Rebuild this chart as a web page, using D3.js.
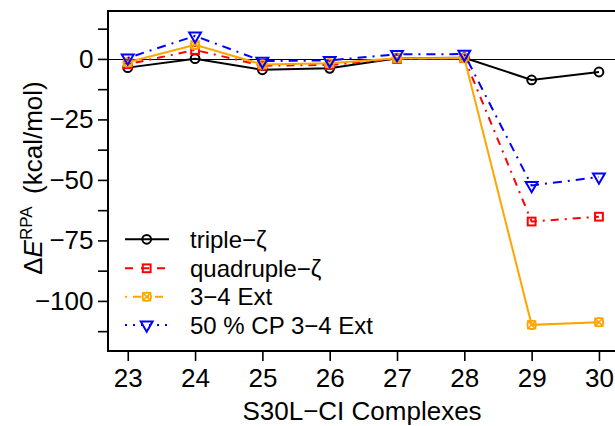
<!DOCTYPE html>
<html>
<head>
<meta charset="utf-8">
<script src="https://cdn.jsdelivr.net/npm/d3@7"></script>
<style>
  html, body { margin: 0; padding: 0; background: #fff; }
  svg { display: block; }
  text { font-family: "Liberation Sans", Arial, Helvetica, sans-serif; fill: #000; }
</style>
</head>
<body>
<svg id="chart" width="615" height="426"></svg>
<script>
// ---- data ----
const complexes = [23, 24, 25, 26, 27, 28, 29, 30];
const tripleZeta    = [-3.6, 0.1, -4.5, -3.9, 0.3, 0.5, -8.7, -5.4];
const quadrupleZeta = [-2.2, 3.7, -2.8, -2.5, 0.0, 0.3, -67.2, -65.2];
const ext34         = [-1.4, 5.8, -2.3, -1.8, 0.3, 0.4, -109.9, -108.8];
const cp50ext34     = [0.4, 9.5, -0.9, -0.6, 1.9, 2.0, -52.3, -48.8];
const seriesNames = ["triple\u2212\u03B6", "quadruple\u2212\u03B6", "3\u22124 Ext", "50 % CP 3\u22124 Ext"];
const yMajorTicks = [0, -25, -50, -75, -100];
const yMinorTicks = [12.5, -12.5, -37.5, -62.5, -87.5, -112.5];
const xTicks = complexes;
const xTitle = "S30L\u2212CI Complexes";

// ---- layout ----
const svg = d3.select("#chart");
const x = d3.scaleLinear().domain([22.72, 30.28]).range([108.9, 617.8]);
const y = d3.scaleLinear().domain([-120.7, 19.8]).range([351, 11]);
const R = 4.4;

const series = [
  { name: seriesNames[0], values: tripleZeta,    color: "#000000", dash: null,        legDash: null,        shape: "circle" },
  { name: seriesNames[1], values: quadrupleZeta, color: "#FF0000", dash: "2,6,8,6",   legDash: "8,8",       shape: "square" },
  { name: seriesNames[2], values: ext34,         color: "#FFA500", dash: null,        legDash: "2,6,8,6",   shape: "boxx" },
  { name: seriesNames[3], values: cp50ext34,     color: "#0000FF", dash: "2,6,9,6",   legDash: "2,6",       shape: "tri" }
];

function drawMarker(g, shape, cx, cy, color) {
  const sw = shape === "boxx" ? 1.5 : 2;
  const apply = sel => sel.attr("fill", "none").attr("stroke", color).attr("stroke-width", sw);
  if (shape === "circle") {
    apply(g.append("circle").attr("cx", cx).attr("cy", cy).attr("r", R));
  } else if (shape === "square") {
    const h = R * 0.8862;
    apply(g.append("rect").attr("x", cx - h).attr("y", cy - h).attr("width", 2 * h).attr("height", 2 * h));
  } else if (shape === "boxx") {
    const h = R * 0.8862;
    apply(g.append("rect").attr("x", cx - h).attr("y", cy - h).attr("width", 2 * h).attr("height", 2 * h));
    apply(g.append("circle").attr("cx", cx).attr("cy", cy).attr("r", R));
    apply(g.append("path").attr("d", `M${cx - h},${cy - h}L${cx + h},${cy + h}M${cx - h},${cy + h}L${cx + h},${cy - h}`));
  } else if (shape === "tri") {
    const r = 1.5551 * R, xc = 1.3468 * R, yc = 0.7776 * R;
    apply(g.append("path").attr("d", `M${cx - xc},${cy - yc}L${cx + xc},${cy - yc}L${cx},${cy + r}Z`).attr("stroke-linejoin", "miter"));
  }
}

// zero reference line
const y0 = Math.round(y(0)) + 0.5;
svg.append("line")
  .attr("x1", 108).attr("x2", 615).attr("y1", y0).attr("y2", y0)
  .attr("stroke", "#000").attr("stroke-width", 1);

// series lines + markers
const line = d3.line().x((d, i) => x(complexes[i])).y(d => y(d));
series.forEach(s => {
  const g = svg.append("g");
  g.append("path").datum(s.values)
    .attr("d", line)
    .attr("fill", "none")
    .attr("stroke", s.color)
    .attr("stroke-width", 2)
    .attr("stroke-dasharray", s.dash);
  s.values.forEach((v, i) => drawMarker(g, s.shape, x(complexes[i]), y(v), s.color));
});

// box
svg.append("path")
  .attr("d", `M620,${y.range()[1]}H108V${y.range()[0]}H620`)
  .attr("fill", "none").attr("stroke", "#000").attr("stroke-width", 2);

// axes
const yAxis = svg.append("g").attr("transform", "translate(108,0)")
  .call(d3.axisLeft(y).tickValues(yMajorTicks).tickSize(10).tickPadding(4.5));
const yMinor = svg.append("g").attr("transform", "translate(108,0)")
  .call(d3.axisLeft(y).tickValues(yMinorTicks).tickSize(10).tickFormat(""));
const xAxis = svg.append("g").attr("transform", `translate(0,${y.range()[0]})`)
  .call(d3.axisBottom(x).tickValues(xTicks).tickSize(10).tickPadding(7.8).tickFormat(d3.format("d")));
[yAxis, yMinor, xAxis].forEach(a => {
  a.select(".domain").remove();
  a.selectAll(".tick line").attr("stroke", "#000").attr("stroke-width", 1.6);
  a.selectAll(".tick text").attr("font-size", 26).attr("font-family", "Liberation Sans, Arial, sans-serif").attr("fill", "#000");
});

// x title
svg.append("text")
  .attr("x", 362).attr("y", 420)
  .attr("text-anchor", "middle").attr("font-size", 26)
  .text(xTitle);

// y title
const yt = svg.append("text")
  .attr("transform", "translate(41.5,178) rotate(-90)")
  .attr("text-anchor", "middle").attr("font-size", 26);
yt.append("tspan").text("\u0394");
yt.append("tspan").attr("font-style", "italic").text("E");
yt.append("tspan").attr("font-size", 17).attr("dy", -10).text("RPA");
yt.append("tspan").attr("dy", 10).text("\u2009 (kcal/mol)");

// legend
const legRows = [239.3, 268.3, 296.7, 325];
series.forEach((s, i) => {
  const g = svg.append("g");
  const yy = legRows[i];
  g.append("line").attr("x1", 125).attr("x2", 169).attr("y1", yy).attr("y2", yy)
    .attr("stroke", s.color).attr("stroke-width", 2).attr("stroke-dasharray", s.legDash);
  drawMarker(g, s.shape, 146.7, yy, s.color);
  g.append("text").attr("x", 190).attr("y", yy).attr("dy", "0.36em")
    .attr("font-size", 24).text(s.name);
});
</script>
</body>
</html>
